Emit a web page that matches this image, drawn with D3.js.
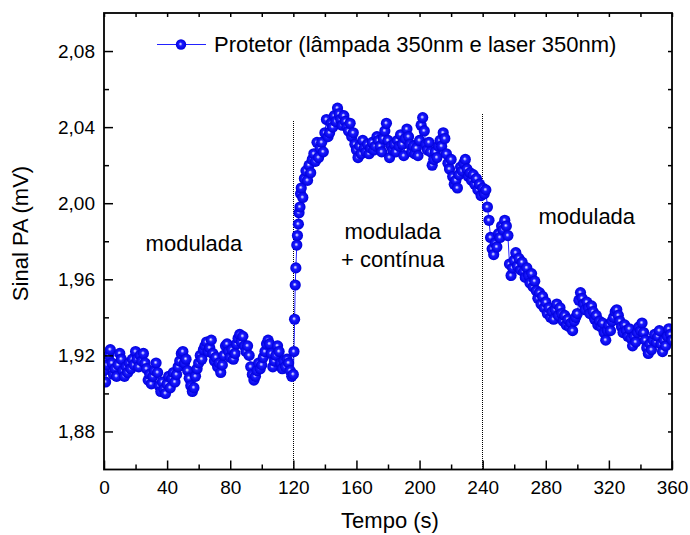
<!DOCTYPE html>
<html>
<head>
<meta charset="utf-8">
<script src="https://cdn.jsdelivr.net/npm/d3@7"></script>
<style>
  html, body { margin: 0; padding: 0; background: #ffffff; }
  svg { display: block; }
  text { font-family: "Liberation Sans", Arial, sans-serif; fill: #000; }
</style>
</head>
<body>
<svg id="chart" width="690" height="535"></svg>
<script>
// ---------------- DATA ----------------
const seriesName = "Protetor (lâmpada 350nm e laser 350nm)";
const xTitle = "Tempo (s)";
const yTitle = "Sinal PA (mV)";

// signal sampled every 1 s, t = 0 .. 119
const signalBefore = [
  1.912, 1.906, 1.915, 1.920, 1.923,
  1.916, 1.910, 1.913, 1.909, 1.915,
  1.921, 1.918, 1.912, 1.909, 1.914,
  1.911, 1.916, 1.913, 1.918, 1.915,
  1.922, 1.918, 1.914, 1.920, 1.917,
  1.921, 1.916, 1.913, 1.907, 1.910,
  1.905, 1.909, 1.912, 1.916, 1.911,
  1.904, 1.901, 1.906, 1.902, 1.900,
  1.905, 1.909, 1.903, 1.908, 1.911,
  1.906, 1.910, 1.914, 1.917, 1.921,
  1.922, 1.916, 1.918, 1.912, 1.908,
  1.904, 1.901, 1.903, 1.909, 1.913,
  1.916, 1.920, 1.918, 1.923, 1.925,
  1.927, 1.922, 1.924, 1.928, 1.921,
  1.917, 1.919, 1.914, 1.916, 1.911,
  1.915, 1.920, 1.925, 1.926, 1.922,
  1.919, 1.923, 1.918, 1.921, 1.926,
  1.929, 1.931, 1.927, 1.930, 1.925,
  1.922, 1.925, 1.920, 1.914, 1.910,
  1.907, 1.909, 1.912, 1.916, 1.913,
  1.915, 1.919, 1.922, 1.926, 1.928,
  1.926, 1.921, 1.914, 1.917, 1.920,
  1.925, 1.922, 1.916, 1.913, 1.917,
  1.914, 1.918, 1.916, 1.912, 1.909
];
const beforeStart = 0;

// fast rise after switching on the continuous lamp (t = 120 .. 125)
const jumpTimes  = [120.0, 120.4, 120.8, 121.2, 121.6, 122.2, 122.6, 123.2, 123.6, 124.2, 124.6];
const jumpValues = [1.910, 1.922, 1.939, 1.957, 1.966, 1.978, 1.983, 1.989, 1.995, 1.998, 2.005];

// signal sampled every 1 s, t = 125 .. 360
const signalAfter = [
  2.008, 2.003, 2.013, 2.017, 2.012,
  2.020, 2.016, 2.023, 2.026, 2.022,
  2.032, 2.024, 2.029, 2.032, 2.027,
  2.037, 2.044, 2.035, 2.037, 2.042,
  2.040, 2.046, 2.043, 2.050, 2.047,
  2.044, 2.041, 2.046, 2.043, 2.040,
  2.038, 2.042, 2.035, 2.037, 2.031,
  2.028, 2.024, 2.030, 2.026, 2.033,
  2.029, 2.027, 2.031, 2.026, 2.029,
  2.032, 2.028, 2.030, 2.035, 2.033,
  2.030, 2.027, 2.034, 2.038, 2.042,
  2.033, 2.024, 2.030, 2.028, 2.031,
  2.027, 2.033, 2.030, 2.036, 2.031,
  2.025, 2.034, 2.039, 2.035, 2.031,
  2.027, 2.030, 2.026, 2.029, 2.025,
  2.033, 2.041, 2.045, 2.038, 2.031,
  2.028, 2.032, 2.027, 2.020, 2.023,
  2.027, 2.024, 2.030, 2.033, 2.030,
  2.037, 2.034, 2.026, 2.021, 2.018,
  2.023, 2.014, 2.010, 2.012, 2.008,
  2.015, 2.019, 2.017, 2.021, 2.023,
  2.018, 2.014, 2.016, 2.012, 2.015,
  2.010, 2.013, 2.007, 2.010, 2.004,
  2.008, 2.005, 2.007, 1.998, 1.991,
  1.982, 1.976, 1.973, 1.979, 1.977,
  1.984, 1.982, 1.988, 1.986, 1.991,
  1.988, 1.983, 1.968, 1.962, 1.966,
  1.970, 1.974, 1.967, 1.971, 1.965,
  1.969, 1.964, 1.961, 1.966, 1.962,
  1.958, 1.963, 1.956, 1.959, 1.954,
  1.950, 1.953, 1.947, 1.951, 1.945,
  1.948, 1.942, 1.945, 1.940, 1.943,
  1.939, 1.944, 1.947, 1.941, 1.945,
  1.942, 1.938, 1.941, 1.936, 1.939,
  1.935, 1.937, 1.933, 1.938, 1.940,
  1.942, 1.949, 1.953, 1.950, 1.947,
  1.944, 1.948, 1.945, 1.942, 1.946,
  1.943, 1.939, 1.941, 1.936, 1.938,
  1.935, 1.937, 1.932, 1.928, 1.933,
  1.936, 1.933, 1.938, 1.940, 1.943,
  1.944, 1.941, 1.938, 1.935, 1.932,
  1.936, 1.933, 1.930, 1.934, 1.929,
  1.925, 1.930, 1.927, 1.932, 1.935,
  1.933, 1.937, 1.932, 1.928, 1.924,
  1.921, 1.926, 1.923, 1.928, 1.931,
  1.927, 1.930, 1.933, 1.926, 1.922,
  1.928, 1.925, 1.930, 1.934, 1.931,
  1.928
];
const afterStart = 125;
const sampleStep = 1;

// vertical dotted markers (switch times) and their top values
const dividerTimes = [120, 240];
const dividerTops  = [2.043, 2.047];

// axes
const xDomain = [0, 360];
const yDomain = [1.86, 2.10];
const xTickValues = [0, 40, 80, 120, 160, 200, 240, 280, 320, 360];
const xMinorTicks = [20, 60, 100, 140, 180, 220, 260, 300, 340];
const yTickValues = [1.88, 1.92, 1.96, 2.00, 2.04, 2.08];
const yMinorTicks = [1.90, 1.94, 1.98, 2.02, 2.06];

// region labels
const regionLabels = [
  { lines: ["modulada"], t: 57 },
  { lines: ["modulada", "+ contínua"], t: 183 },
  { lines: ["modulada"], t: 306 }
];

// ---------------- BUILD ----------------
const data = [];
signalBefore.forEach((v, i) => data.push({ t: beforeStart + i * sampleStep, v }));
jumpTimes.forEach((t, i) => data.push({ t, v: jumpValues[i] }));
signalAfter.forEach((v, i) => data.push({ t: afterStart + i * sampleStep, v }));
data.sort((a, b) => a.t - b.t);

const W = 690, H = 535;
const margin = { top: 13, right: 18, bottom: 65.5, left: 104 };
const iw = W - margin.left - margin.right;
const ih = H - margin.top - margin.bottom;

const svg = d3.select("#chart");
const defs = svg.append("defs");
const grad = defs.append("radialGradient")
  .attr("id", "ball").attr("cx", "0.5").attr("cy", "0.5").attr("r", "0.5")
  .attr("fx", "0.44").attr("fy", "0.44");
grad.append("stop").attr("offset", "0").attr("stop-color", "#f0f0ff");
grad.append("stop").attr("offset", "0.14").attr("stop-color", "#a8a8ff");
grad.append("stop").attr("offset", "0.36").attr("stop-color", "#1a1aff");
grad.append("stop").attr("offset", "1").attr("stop-color", "#0000dc");

defs.append("clipPath").attr("id", "clip")
  .append("rect").attr("width", iw).attr("height", ih);

const g = svg.append("g").attr("transform", `translate(${margin.left},${margin.top})`);

const x = d3.scaleLinear().domain(xDomain).range([0, iw]);
const y = d3.scaleLinear().domain(yDomain).range([ih, 0]);

const fmtY = d => d3.format(".2f")(d).replace(".", ",");

// dotted dividers
g.selectAll(".divider").data(dividerTimes).join("line")
  .attr("class", "divider")
  .attr("x1", d => x(d)).attr("x2", d => x(d))
  .attr("y1", (d, i) => y(dividerTops[i])).attr("y2", ih)
  .attr("stroke", "#000").attr("stroke-width", 1)
  .attr("shape-rendering", "crispEdges")
  .attr("stroke-dasharray", "1,1");

// series line + markers
const plot = g.append("g").attr("clip-path", "url(#clip)");
plot.append("path").datum(data)
  .attr("fill", "none").attr("stroke", "#2222ff").attr("stroke-width", 1)
  .attr("d", d3.line().x(d => x(d.t)).y(d => y(d.v)));
plot.selectAll("circle").data(data).join("circle")
  .attr("cx", d => x(d.t)).attr("cy", d => y(d.v)).attr("r", 5.6)
  .attr("fill", "url(#ball)");

// axes (ticks inward)
const axB = g.append("g").attr("transform", `translate(0,${ih})`)
  .call(d3.axisBottom(x).tickValues(xTickValues).tickSize(-9).tickPadding(11).tickFormat(d3.format("d")));
const axBm = g.append("g").attr("transform", `translate(0,${ih})`)
  .call(d3.axisBottom(x).tickValues(xMinorTicks).tickSize(-5).tickFormat(""));
const axL = g.append("g")
  .call(d3.axisLeft(y).tickValues(yTickValues).tickSize(-9).tickPadding(9).tickFormat(fmtY));
const axLm = g.append("g")
  .call(d3.axisLeft(y).tickValues(yMinorTicks).tickSize(-5).tickFormat(""));
const axT = g.append("g")
  .call(d3.axisTop(x).tickValues(xTickValues.concat(xMinorTicks)).tickSize(-4).tickFormat(""));
const axR = g.append("g").attr("transform", `translate(${iw},0)`)
  .call(d3.axisRight(y).tickValues(yTickValues.concat(yMinorTicks)).tickSize(-4).tickFormat(""));

[axB, axBm, axL, axLm, axT, axR].forEach(a => {
  a.select(".domain").remove();
  a.selectAll(".tick line").attr("stroke", "#000").attr("stroke-width", 1.5);
  a.selectAll(".tick text").style("font-size", "19px").attr("fill", "#000")
    .style("font-family", '"Liberation Sans", Arial, sans-serif');
});

// frame
g.append("rect").attr("width", iw).attr("height", ih)
  .attr("fill", "none").attr("stroke", "#000").attr("stroke-width", 1.8);

// axis titles
svg.append("text").attr("x", margin.left + iw / 2 + 2).attr("y", 528)
  .attr("text-anchor", "middle").style("font-size", "22px").text(xTitle);
svg.append("text")
  .attr("transform", `translate(28,${233.5}) rotate(-90)`)
  .attr("text-anchor", "middle").style("font-size", "22px").text(yTitle);

// region labels
const labelBaseline = [251, 239, 224];
regionLabels.forEach((lab, i) => {
  lab.lines.forEach((ln, j) => {
    g.append("text")
      .attr("x", x(lab.t))
      .attr("y", labelBaseline[i] - margin.top + j * 28)
      .attr("text-anchor", "middle").style("font-size", "22px").text(ln);
  });
});

// legend
const lg = svg.append("g");
lg.append("line").attr("x1", 157).attr("x2", 206).attr("y1", 44.5).attr("y2", 44.5)
  .attr("stroke", "#2222ff").attr("stroke-width", 1.2);
lg.append("circle").attr("cx", 181).attr("cy", 44.5).attr("r", 5.2).attr("fill", "url(#ball)");
lg.append("text").attr("x", 214).attr("y", 52).style("font-size", "22px").text(seriesName);
</script>
</body>
</html>
